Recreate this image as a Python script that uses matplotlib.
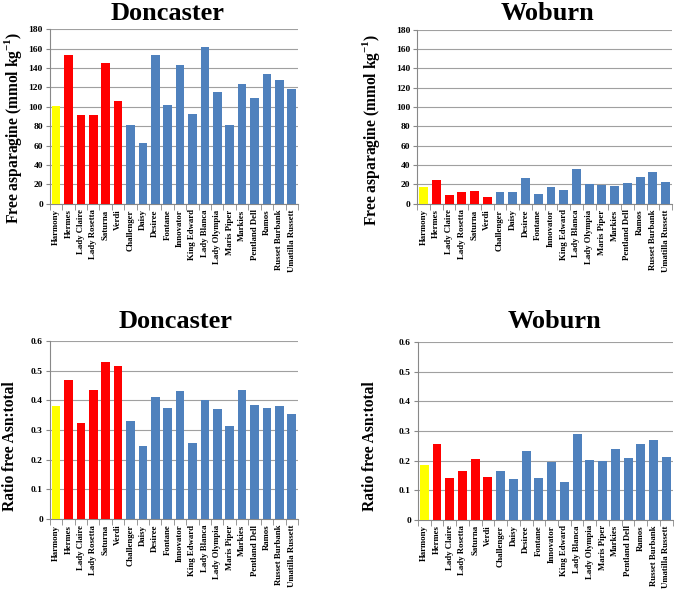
import matplotlib.pyplot as plt
import numpy as np

varieties = ['Harmony', 'Hermes', 'Lady Claire', 'Lady Rosetta', 'Saturna',
             'Verdi', 'Challenger', 'Daisy', 'Desiree', 'Fontane', 'Innovator',
             'King Edward', 'Lady Blanca', 'Lady Olympia', 'Maris Piper',
             'Markies', 'Pentland Dell', 'Ramos', 'Russet Burbank',
             'Umatilla Russett']

# free asparagine (mmol/kg)
asn_doncaster = [101, 153, 92, 92, 145, 106, 81, 63, 153, 102, 143, 93, 162,
                 115, 81, 124, 109, 134, 128, 118]
asn_woburn = [17, 25, 9.5, 12.5, 13.5, 7, 12, 12.5, 27, 10, 17.5, 14, 36,
              20, 19.5, 18, 22, 27.5, 33, 23]

# ratio free asn : total free amino acids
ratio_doncaster = [0.38, 0.47, 0.325, 0.435, 0.53, 0.515, 0.33, 0.245, 0.41,
                   0.375, 0.43, 0.255, 0.40, 0.37, 0.313, 0.435, 0.385,
                   0.373, 0.38, 0.355]
ratio_woburn = [0.185, 0.255, 0.14, 0.165, 0.205, 0.145, 0.163, 0.137, 0.232,
                0.14, 0.195, 0.127, 0.29, 0.203, 0.20, 0.24, 0.21, 0.255,
                0.27, 0.213]

# yellow = control, red = low-asn group, blue = the rest
colors = ['#FFFF00'] + ['#FF0000'] * 5 + ['#4F81BD'] * 14

plt.rcParams['font.family'] = 'Liberation Serif'
plt.rcParams['font.weight'] = 'bold'
plt.rcParams['mathtext.fontset'] = 'custom'
plt.rcParams['mathtext.rm'] = 'Liberation Serif:bold'
plt.rcParams['mathtext.bf'] = 'Liberation Serif:bold'

fig = plt.figure(figsize=(6.74, 5.96), dpi=100)

asn_label = 'Free asparagine (mmol kg$^{-1}$)'
panels = [
    # rect, values, ylim, step, title, title xy, ylabel, ylabel xy
    ([0.074, 0.658, 0.368, 0.293], asn_doncaster, 180, 20, 'Doncaster',
     (0.249, 0.978), asn_label, (0.020, 0.785)),
    ([0.619, 0.658, 0.378, 0.292], asn_woburn, 180, 20, 'Woburn',
     (0.812, 0.978), asn_label, (0.551, 0.782)),
    ([0.074, 0.129, 0.368, 0.299], ratio_doncaster, 0.6, 0.1, 'Doncaster',
     (0.260, 0.460), 'Ratio free Asn:total', (0.0145, 0.252)),
    ([0.620, 0.128, 0.378, 0.298], ratio_woburn, 0.6, 0.1, 'Woburn',
     (0.822, 0.460), 'Ratio free Asn:total', (0.549, 0.252)),
]

x = np.arange(len(varieties))
for rect, vals, ymax, step, title, txy, ylab, lxy in panels:
    ax = fig.add_axes(rect)
    ax.bar(x, vals, width=0.7, color=colors, zorder=3)
    ax.set_xlim(-0.5, len(varieties) - 0.5)
    ax.set_ylim(0, ymax)
    ticks = np.arange(0, ymax + step / 2, step)
    ax.set_yticks(ticks)
    if step < 1:
        ax.set_yticklabels(['0'] + ['%.1f' % t for t in ticks[1:]])
    ax.set_xticks(x)
    ax.set_xticklabels(varieties, rotation=90, fontsize=6.3)
    ax.tick_params(axis='y', labelsize=6.8, length=3, color='#888888', pad=2)
    ax.tick_params(axis='x', length=0, pad=4)
    ax.set_xticks(np.arange(-0.5, len(varieties)), minor=True)
    ax.tick_params(axis='x', which='minor', length=4, color='#888888')
    ax.grid(axis='y', color='#A0A0A0', linewidth=0.8, zorder=0)
    for side in ('top', 'right'):
        ax.spines[side].set_visible(False)
    for side in ('left', 'bottom'):
        ax.spines[side].set_color('#888888')
    fig.text(txy[0], txy[1], title, ha='center', va='center', fontsize=19)
    fig.text(lxy[0], lxy[1], ylab, ha='center', va='center', rotation=90,
             fontsize=11.2)

fig.savefig('out.png', dpi=100)
